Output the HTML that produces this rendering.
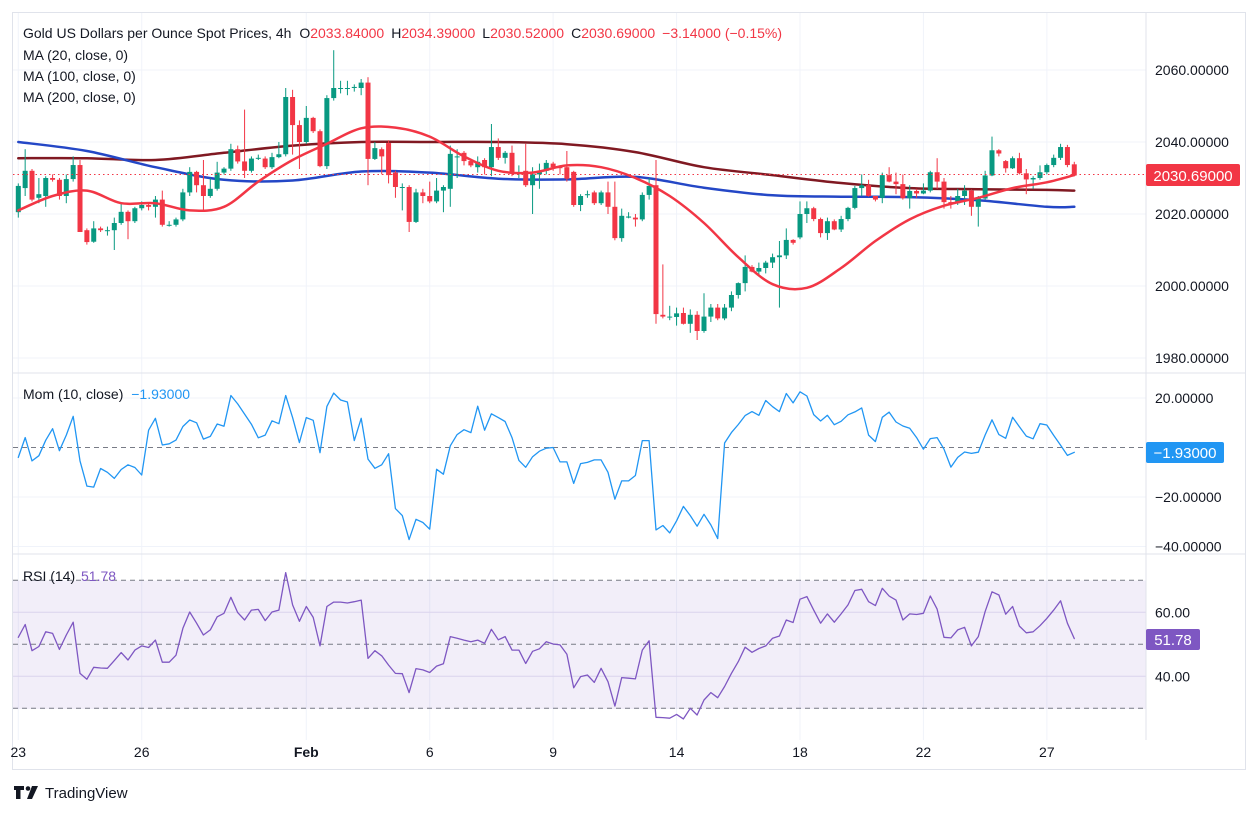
<!DOCTYPE html>
<html><head><meta charset="utf-8"><style>
html,body{margin:0;padding:0;background:#fff;}
svg{display:block;font-family:"Liberation Sans",sans-serif;}
</style></head><body>
<svg id="chart" width="1259" height="814" viewBox="0 0 1259 814" xmlns="http://www.w3.org/2000/svg">
<defs>
<clipPath id="cp1"><rect x="13" y="13" width="1133" height="359"/></clipPath>
<clipPath id="cp2"><rect x="13" y="374" width="1133" height="179"/></clipPath>
<clipPath id="cp3"><rect x="13" y="555" width="1133" height="185"/></clipPath>
</defs>
<g id="grid"></g>
<rect x="13" y="580.5" width="1133" height="128.5" fill="#7e57c2" fill-opacity="0.1"/>
<g id="dashes"></g>
<g id="ma200" clip-path="url(#cp1)"></g>
<g id="ma100" clip-path="url(#cp1)"></g>
<g id="candles" clip-path="url(#cp1)"></g>
<g id="ma20" clip-path="url(#cp1)"></g>
<g id="mom" clip-path="url(#cp2)"></g>
<g id="rsi" clip-path="url(#cp3)"></g>
<line x1="13" y1="174.5" x2="1146" y2="174.5" stroke="#f23645" stroke-width="1" stroke-dasharray="1.5,3"/>
<rect x="12.5" y="12.5" width="1233" height="757" fill="none" stroke="#e0e3eb"/>
<line x1="1146" y1="12" x2="1146" y2="740" stroke="#e0e3eb"/>
<line x1="12" y1="373" x2="1246" y2="373" stroke="#e0e3eb"/>
<line x1="12" y1="554" x2="1246" y2="554" stroke="#e0e3eb"/>
<g id="axes"></g>
<text x="23" y="38" font-size="14" fill="#131722">Gold US Dollars per Ounce Spot Prices, 4h <tspan dx="4">O</tspan><tspan fill="#f23645">2033.84000</tspan><tspan dx="7">H</tspan><tspan fill="#f23645">2034.39000</tspan><tspan dx="7">L</tspan><tspan fill="#f23645">2030.52000</tspan><tspan dx="7">C</tspan><tspan fill="#f23645">2030.69000</tspan><tspan dx="7" fill="#f23645">−3.14000 (−0.15%)</tspan></text>
<text x="23" y="60" font-size="14" fill="#131722">MA (20, close, 0)</text>
<text x="23" y="81" font-size="14" fill="#131722">MA (100, close, 0)</text>
<text x="23" y="102" font-size="14" fill="#131722">MA (200, close, 0)</text>
<text x="23" y="399" font-size="14" fill="#131722">Mom (10, close) <tspan dx="4" fill="#2196f3">−1.93000</tspan></text>
<text x="23" y="581" font-size="14" fill="#131722">RSI (14) <tspan dx="2" fill="#7e57c2">51.78</tspan></text>
<rect x="1146" y="164" width="94" height="22" rx="2" fill="#f23645"/>
<text x="1193" y="181" font-size="15" fill="#fff" text-anchor="middle">2030.69000</text>
<rect x="1146" y="442" width="78" height="21" rx="2" fill="#2196f3"/>
<text x="1185" y="458" font-size="15" fill="#fff" text-anchor="middle">−1.93000</text>
<rect x="1146" y="629" width="54" height="21" rx="2" fill="#7e57c2"/>
<text x="1173" y="645" font-size="15" fill="#fff" text-anchor="middle">51.78</text>
<g>
<path d="M14 786h10v4h-3.5v9h-4.5v-9h-2z" fill="#131722"/>
<circle cx="28" cy="788.5" r="2.3" fill="#131722"/>
<path d="M32 786h6l-6 13h-5z" fill="#131722"/>
<text x="45" y="798" font-size="15" fill="#131722">TradingView</text>
</g>
</svg>
<script>
const opens=[2020.5,2027.2,2032,2024.5,2025,2030,2029.5,2025,2029.7,2033.6,2015.5,2012.3,2016,2015.5,2015.5,2017.5,2020.6,2018,2021.6,2022.5,2022,2024,2017,2017,2018.5,2026,2031.7,2028,2025,2027,2031.5,2032.6,2038,2034.6,2032,2035.4,2035.4,2033,2035.8,2036.6,2052.5,2044.7,2040,2046.7,2043,2033.3,2052.2,2055,2055,2055,2055,2056.5,2035.3,2038,2039.7,2031.5,2027.5,2027.5,2017.8,2026,2025,2023.5,2026.5,2027,2036,2037,2034.7,2033,2035,2033,2038.6,2035.6,2037,2031.5,2032,2028,2031,2032,2034,2033,2033,2031.7,2022.5,2025.5,2026,2023,2026,2022,2013.3,2019,2019,2018.5,2025.3,2028,1992,1991.5,1991.4,1992.5,1989.5,1992,1987.5,1991.5,1994,1991,1994,1997.5,2000.8,2005.3,2004,2005,2006.5,2008,2008.5,2012.8,2013.5,2020,2021.6,2018.6,2014.7,2018,2015.7,2018.6,2021.7,2027.2,2028,2025,2024.5,2030.8,2029,2028.3,2024.4,2026.4,2025.7,2026.5,2031.6,2029,2023.3,2023,2025,2026.5,2022,2024.3,2030.7,2037.7,2034.7,2032.7,2035.5,2031.3,2029.6,2030,2031.6,2033.6,2035.6,2038.6,2033.8];
const highs=[2028.5,2038,2032.5,2030,2030.5,2031,2030,2031,2036,2035,2016,2018,2016.5,2016.5,2019,2023,2021,2022,2023.5,2023,2025,2026.5,2018,2019,2027,2033,2032,2035,2030,2034.5,2033,2039.5,2039,2049,2036,2036.5,2036,2037,2040,2055,2054.5,2046,2050,2047,2043.5,2053,2065.5,2057,2057,2056,2057.5,2058,2040,2038.5,2040.5,2032,2028.5,2028,2027,2027,2029,2030,2028,2039,2038,2037.5,2035,2036,2035.5,2045,2041,2037.5,2039,2033.5,2039.5,2033,2034,2035,2034.5,2033.5,2037.5,2032,2025.5,2026.5,2026.5,2026.5,2029,2029,2021.5,2020.5,2020,2026,2030,2035,2006,1994.5,1994,1994,1993.5,1993,1998,1995,1995,1995,1998.5,2001,2008.5,2005.8,2006.5,2007,2009,2012.5,2016,2013,2023.5,2023.5,2022,2019,2019,2018.5,2019.5,2022,2027.8,2031,2029.5,2025,2031.5,2033,2031.5,2031,2028,2027,2028.5,2032,2035.5,2030,2025,2027,2028,2026.8,2025,2032,2041.5,2038,2035,2036,2037,2032.5,2030.5,2033.5,2034,2036.5,2039.5,2039.2,2034.5];
const lows=[2019,2025,2023.5,2023,2022,2029,2024,2023,2029,2015,2011.5,2012,2015,2014,2010,2017,2013,2017.5,2021,2021,2019,2016.5,2016.5,2016.5,2018,2025,2026,2021,2024.5,2026.5,2031,2032,2034,2030,2031.5,2035,2032.5,2032.5,2035.5,2036,2036.5,2032.5,2039.5,2042.5,2033,2032.5,2051.5,2053.5,2053,2054,2053,2028,2035,2031,2028.5,2024.5,2021,2015,2017.5,2023,2023,2023,2020.5,2022,2030,2033.5,2033,2031.5,2031,2030.5,2035,2034,2030.5,2030,2027.5,2020,2027,2031,2032,2031,2029,2022,2020.8,2024.5,2022.5,2022.5,2020,2012.7,2012.3,2018.8,2016.5,2018,2024,1989.5,1991,1990.5,1989,1989.3,1987,1985,1987,1990,1990.5,1990.5,1993,1996.5,1998.5,2003.8,2003,2003.5,2005,1994,2007.5,2011.5,2013,2017.5,2018,2013.5,2012.8,2015.5,2015,2018,2021.3,2025,2024.8,2023.5,2023,2028.8,2025.5,2024,2021.5,2024.5,2025.5,2026,2027,2021.5,2021.5,2022.5,2022.5,2019.5,2016.5,2024,2030.5,2036,2031.5,2032.5,2031,2025.5,2027,2029.5,2031,2033,2035,2033,2030.5];
const closes=[2027.8,2032,2024,2025.5,2030,2029.5,2025,2029.7,2033.6,2015,2012.2,2016,2015.5,2015.5,2017.5,2020.6,2018,2021.6,2022.5,2022,2024,2017,2017,2018.5,2026,2031.7,2028,2025,2027,2031.5,2032.6,2038,2034.6,2032,2035.4,2035.6,2033,2035.8,2036.6,2052.5,2044.7,2040,2046.7,2043,2033.3,2052.2,2055,2055,2055,2055.3,2056.5,2035.3,2038.3,2036,2030.8,2027.5,2027.5,2017.8,2026,2025,2023.5,2026.5,2027.5,2036.7,2036,2034.7,2033.5,2034.5,2033,2038.6,2035.6,2037,2031.5,2031.5,2028,2031,2032,2034.2,2033,2032.8,2029.8,2022.5,2025,2025.5,2023,2026,2022,2013.3,2019.5,2019.3,2018.5,2025.3,2027.8,1992.2,1991.5,1991.5,1992.4,1989.5,1992,1987.5,1991.5,1994,1991,1994,1997.5,2000.8,2005.3,2004,2005,2006.5,2008,2008.5,2012.8,2012,2020,2021.6,2018.6,2014.7,2018,2015.7,2018.6,2021.7,2027.2,2028,2025,2024,2030.8,2029,2028.3,2024.4,2026.4,2025.7,2026.5,2031.6,2029,2023.3,2022.9,2025,2026.5,2022,2024.5,2030.7,2037.7,2036.8,2032.7,2035.5,2031.3,2029.6,2030,2031.6,2033.6,2035.6,2038.6,2033.6,2030.7];
const ma20Step=5;
const ma20=[2021,2025,2026.5,2023,2023,2021,2022,2029,2035,2039.5,2043.8,2044,2041.5,2036,2032,2031.5,2033.5,2033,2030,2025,2017.5,2008,2000.5,1999.5,2005,2012.5,2018.5,2022.3,2024.5,2027.2,2028.8,2030.8];
const maLongStep=10;
const ma100=[2040,2037.5,2033,2029.5,2029.3,2031.8,2031.5,2029.8,2029.6,2030.3,2027.3,2025.2,2024.8,2024.7,2023.8,2022,2022];
const ma200=[2035.5,2035.5,2035,2037,2039,2040,2040,2040,2039.4,2037.2,2033,2030.8,2028.6,2027.2,2026.9,2026.7,2026.5];
const mom=[-4,4,-5.4,-3.3,2.9,7.6,-1.3,5,12.6,-5.4,-15.6,-16,-8.5,-10,-12.5,-8.9,-7,-8.1,-11.1,7,11.8,1,1.5,3,8.5,11.1,10,3.4,4.5,9.5,8.6,21,17.6,13.5,9.4,3.9,5,10.8,9.6,21,12.1,2,12.1,11,-2.1,16.6,22,19.2,18.4,2.8,11.8,-4.7,-8.4,-7,-2.5,-24.7,-27.5,-37.2,-29,-30.3,-33,-8.8,-10.8,0.7,5.2,7.2,6,16.7,7,13.6,12.1,10.5,4,-5.2,-8,-3.7,-1.5,-0.3,0,-5.8,-5.8,-14.5,-6.5,-6,-5,-5,-10,-20.9,-13.5,-13.5,-11.3,2.8,2.8,-33.3,-31.5,-34.5,-29.6,-23.8,-27.5,-31.8,-27,-31.3,-36.8,1.8,6,9.3,12.9,14.5,13,19,16.5,14.5,21.8,18,22.5,20.8,13.3,10.7,13,9.2,10.6,13.2,14.4,16,5,2.4,12.2,14.3,10.3,8.7,7.8,4,-0.7,3.6,4,-0.7,-7.9,-4,-1.8,-2.4,-1.9,5,11.2,5.2,3.7,12.2,8.4,4.6,3.5,9.6,9.1,4.9,0.9,-3.2,-1.93];
const rsi=[52.2,56.2,48,49.3,53.9,53.4,48.4,52.9,56.9,40.9,39.1,42.8,42.6,42.5,44.9,47.4,45.1,48.2,49.5,49,51.3,44.4,44.4,46.6,55,60.1,56.6,52.9,54.5,58.6,59.7,64.7,59.9,57.6,60.7,60.9,57.4,60.1,60.7,72.4,62.3,57.2,61.8,58.4,49.5,61.8,63.2,63.2,62.9,63.3,63.8,45.6,48,46.4,43.5,40.9,40.8,34.9,42.4,42,41.2,43.2,43.9,52.4,51.9,51.3,50.8,51.3,50.3,54.7,51.4,52.4,48.2,48.2,44,47.8,48.6,50.8,50.1,49.8,46.9,36.4,39.9,40.4,38.1,42.5,38.3,30.7,39.6,39.4,39.2,48.2,51.1,27.2,27.1,26.9,28.1,26.7,30,27.9,32.6,34.9,33.3,36.8,40.9,44.6,49.1,47.5,48.7,49.5,51.9,52.6,57.6,56.8,64.1,64.9,60.7,56.6,59.5,56.9,59.5,62.3,66.8,67.2,63.3,62.1,67.5,65.1,63.8,57.6,59.5,59.3,59.7,65.1,61,52.2,52,54.5,55.3,49.5,52.4,60.2,66.4,65.4,59.4,61.8,55.7,53.6,53.9,55.8,58.1,60.7,63.6,56.6,51.78];
const priceTicks=[2060,2040,2020,2000,1980];
const momTicks=[20,-20,-40];
const rsiTicks=[60,40];
const rsiLevels=[70,50,30];
const dateLabels=["23","26","Feb","6","9","14","18","22","27"];
const dateIdx=[0,18,42,60,78,96,114,132,150];

const NS="http://www.w3.org/2000/svg";
const xi=i=>18.3+6.857*i;
const yP=p=>70+(2060-p)*3.6;
const yM=m=>447.5-m*2.475;
const yR=r=>644.3-(r-50)*3.2;
function mk(tag,attrs,parent){const e=document.createElementNS(NS,tag);for(const k in attrs)e.setAttribute(k,attrs[k]);parent.appendChild(e);return e;}
const g=id=>document.getElementById(id);

const grid=g('grid');
dateIdx.forEach(i=>{const l=mk('line',{x1:xi(i),x2:xi(i),y1:13,y2:740,stroke:'#f0f3fa'},grid);

});
priceTicks.forEach(p=>{const l=mk('line',{x1:13,x2:1146,y1:yP(p),y2:yP(p),stroke:'#f0f3fa'},grid);

});
momTicks.forEach(m=>{const l=mk('line',{x1:13,x2:1146,y1:yM(m),y2:yM(m),stroke:'#f0f3fa'},grid);

});
rsiTicks.forEach(r=>{const l=mk('line',{x1:13,x2:1146,y1:yR(r),y2:yR(r),stroke:'#e6e1f2'},grid);

});
const dashes=g('dashes');
const z=mk('line',{x1:13,x2:1146,y1:yM(0),y2:yM(0),stroke:'#787b86','stroke-dasharray':'5,4'},dashes);


rsiLevels.forEach(r=>{const l=mk('line',{x1:13,x2:1146,y1:yR(r),y2:yR(r),stroke:'#787b86','stroke-dasharray':'5,4'},dashes);

});

const cg=g('candles');
closes.forEach((c,i)=>{
  const o=opens[i],up=c>=o,col=up?'#089981':'#f23645',x=xi(i);
  const w=mk('line',{x1:x,x2:x,y1:yP(highs[i]),y2:yP(lows[i]),stroke:col,'stroke-width':1},cg);
  
  
  const t=Math.min(yP(o),yP(c)),h=Math.max(1,Math.abs(yP(o)-yP(c)));
  const b=mk('rect',{x:x-2.5,y:t,width:5,height:h,fill:col},cg);
  
  
});
function poly(parent,vals,step,yf,color,width,name){
  const pts=vals.map((v,k)=>{const i=Math.min(k*step,closes.length-1);return xi(i).toFixed(1)+','+yf(v).toFixed(1);}).join(' ');
  const p=mk('polyline',{points:pts,fill:'none',stroke:color,'stroke-width':width,'stroke-linejoin':'round','stroke-linecap':'round'},parent);
  
  
}
function smooth(parent,vals,step,yf,color,width,name){
  const P=vals.map((v,k)=>[xi(Math.min(k*step,closes.length-1)),yf(v)]);
  let d='M'+P[0][0].toFixed(1)+','+P[0][1].toFixed(1);
  for(let k=0;k<P.length-1;k++){
    const p0=P[Math.max(0,k-1)],p1=P[k],p2=P[k+1],p3=P[Math.min(P.length-1,k+2)];
    const c1=[p1[0]+(p2[0]-p0[0])/6,p1[1]+(p2[1]-p0[1])/6];
    const c2=[p2[0]-(p3[0]-p1[0])/6,p2[1]-(p3[1]-p1[1])/6];
    d+=' C'+c1[0].toFixed(1)+','+c1[1].toFixed(1)+' '+c2[0].toFixed(1)+','+c2[1].toFixed(1)+' '+p2[0].toFixed(1)+','+p2[1].toFixed(1);
  }
  const p=mk('path',{d:d,fill:'none',stroke:color,'stroke-width':width,'stroke-linecap':'round'},parent);
  
  
}
smooth(g('ma200'),ma200,maLongStep,yP,'#801922',2.5,'ma-200-path');
smooth(g('ma100'),ma100,maLongStep,yP,'#2447c6',2.5,'ma-100-path');
smooth(g('ma20'),ma20,ma20Step,yP,'#f23645',2.5,'ma-20-path');
poly(g('mom'),mom,1,yM,'#2196f3',1.3,'momentum-path');
poly(g('rsi'),rsi,1,yR,'#7e57c2',1.3,'rsi-path');

const ax=g('axes');
function lab(x,y,t,name,extra){const e=mk('text',Object.assign({x:x,y:y,'font-size':14,fill:'#131722'},extra||{}),ax);e.textContent=t;

}
priceTicks.forEach(p=>lab(1155,yP(p)+5,p.toFixed(5),'price-tick-label'));
momTicks.forEach(m=>lab(1155,yM(m)+5,(m<0?'−':'')+Math.abs(m).toFixed(5),'momentum-tick-label'));
rsiTicks.forEach(r=>lab(1155,yR(r)+5,r.toFixed(2),'rsi-tick-label'));
dateLabels.forEach((d,k)=>lab(xi(dateIdx[k]),757,d,'date-label',{'text-anchor':'middle','font-weight':d==='Feb'?'bold':'normal'}));
</script>
</body></html>
